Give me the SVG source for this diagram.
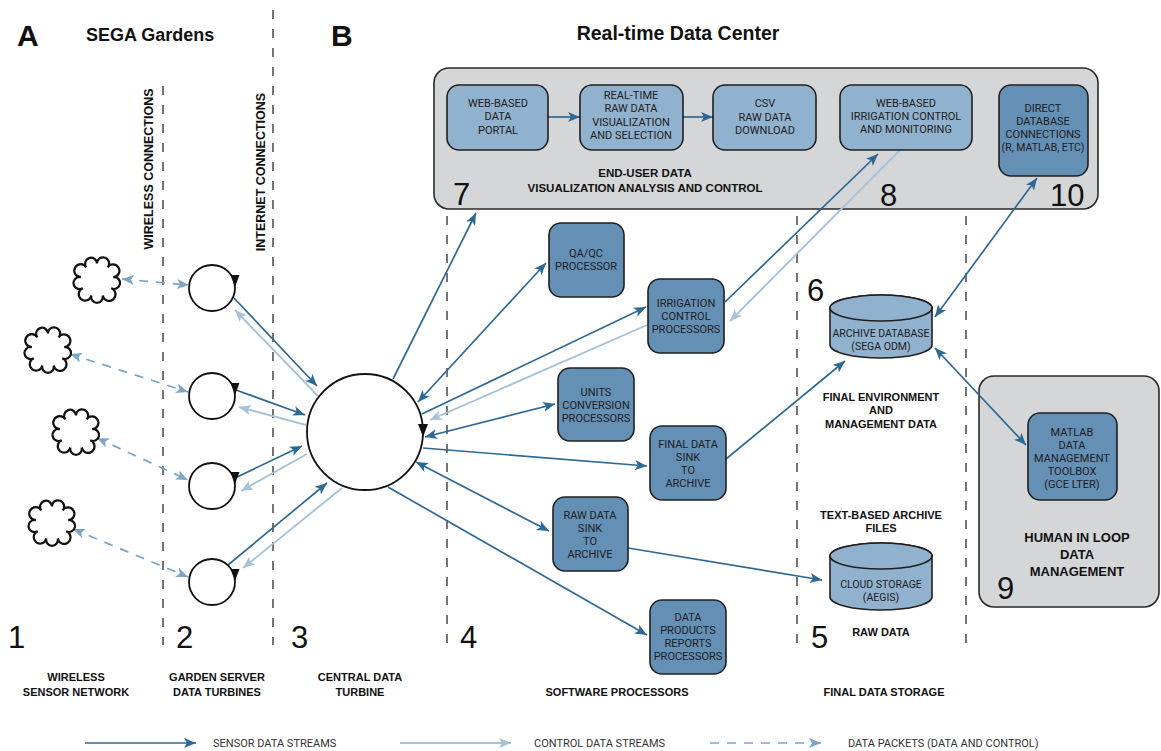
<svg xmlns="http://www.w3.org/2000/svg" width="1161" height="751" viewBox="0 0 1161 751">
<style>
.dk{stroke:#2d6996;stroke-width:1.7;fill:none}
.lt{stroke:#a7c1d8;stroke-width:1.9;fill:none}
.ds{stroke:#7ca5c7;stroke-width:1.7;fill:none;stroke-dasharray:9 8}
.sep{stroke:#3a3a3a;stroke-width:1.4;stroke-dasharray:9 10;fill:none}
.nd{fill:#6590b6;stroke:#1f1f1f;stroke-width:1.6}
.nl{fill:#91b2cf;stroke:#1f1f1f;stroke-width:1.6}
.grp{fill:#d5d6d8;stroke:#2a2a2a;stroke-width:1.6}
.ring{fill:#fff;stroke:#111;stroke-width:1.8}
.cloud{fill:#fff;stroke:#111;stroke-width:2}
text{font-family:Roboto,"Liberation Sans",sans-serif}
.nt{font-size:11px;fill:#1c1c1c;text-anchor:middle}
.bl{font-family:"Liberation Sans",Arial,sans-serif;font-size:11px;font-weight:bold;fill:#111;text-anchor:middle}
.dg{font-family:"Liberation Sans",Arial,sans-serif;font-size:31px;fill:#111}
.lg{font-size:11px;fill:#333}
</style>
<defs>
<marker id="ad" markerUnits="userSpaceOnUse" markerWidth="14" markerHeight="12" refX="12" refY="5" orient="auto-start-reverse"><path d="M0,0 L12,5 L0,10 L3,5 z" fill="#2d6996"/></marker>
<marker id="al" markerUnits="userSpaceOnUse" markerWidth="14" markerHeight="12" refX="12" refY="5" orient="auto-start-reverse"><path d="M0,0 L12,5 L0,10 L3,5 z" fill="#a7c1d8"/></marker>
<marker id="as" markerUnits="userSpaceOnUse" markerWidth="14" markerHeight="12" refX="12" refY="5" orient="auto-start-reverse"><path d="M0,0 L12,5 L0,10 L3,5 z" fill="#7ca5c7"/></marker>
<path id="cl" d="M0,-15 A5.5,5.5 0 1 1 9.64,-11.49 A5.8,5.8 0 1 1 14.77,-2.6 A5.4,5.4 0 1 1 12.99,7.5 A5.9,5.9 0 1 1 5.13,14.1 A5.3,5.3 0 1 1 -5.13,14.1 A5.8,5.8 0 1 1 -12.99,7.5 A5.5,5.5 0 1 1 -14.77,-2.6 A5.9,5.9 0 1 1 -9.64,-11.49 A5.4,5.4 0 1 1 0,-15 Z"/>
</defs>
<rect width="1161" height="751" fill="#fff"/>

<!-- titles -->
<text x="17" y="46" style="font-family:'Liberation Sans',Arial,sans-serif;font-size:30px;font-weight:bold" fill="#111">A</text>
<text x="86" y="41" style="font-family:'Liberation Sans',Arial,sans-serif;font-size:18px;font-weight:bold" fill="#111">SEGA Gardens</text>
<text x="331" y="46" style="font-family:'Liberation Sans',Arial,sans-serif;font-size:30px;font-weight:bold" fill="#111">B</text>
<text x="678" y="40" text-anchor="middle" style="font-family:'Liberation Sans',Arial,sans-serif;font-size:19.5px;font-weight:bold" fill="#111">Real-time Data Center</text>

<!-- separators -->
<g id="separators">
<line class="sep" x1="163" y1="86" x2="163" y2="645"/>
<line class="sep" x1="273" y1="10" x2="273" y2="645"/>
<line class="sep" x1="447" y1="216" x2="447" y2="645"/>
<line class="sep" x1="797" y1="216" x2="797" y2="645"/>
<line class="sep" x1="966" y1="216" x2="966" y2="645"/>
<text class="bl" transform="translate(153,169) rotate(-90)" style="font-size:12.5px">WIRELESS CONNECTIONS</text>
<text class="bl" transform="translate(265,172) rotate(-90)" style="font-size:12.5px">INTERNET CONNECTIONS</text>
</g>

<!-- group boxes -->
<g id="enduser">
<rect class="grp" x="434" y="68" width="664" height="141" rx="15"/>
<text class="bl" x="645" y="177" style="font-size:11.5px">END-USER DATA</text>
<text class="bl" x="645" y="192" style="font-size:11.5px">VISUALIZATION ANALYSIS AND CONTROL</text>
<text class="dg" x="453" y="205">7</text>
<text class="dg" x="880" y="206">8</text>
<text class="dg" x="1050" y="206">10</text>
</g>
<g id="human">
<rect class="grp" x="979" y="376" width="180" height="231" rx="15"/>
<text class="bl" x="1077" y="542" style="font-size:13px">HUMAN IN LOOP</text>
<text class="bl" x="1077" y="559" style="font-size:13px">DATA</text>
<text class="bl" x="1077" y="576" style="font-size:13px">MANAGEMENT</text>
<text class="dg" x="997" y="599">9</text>
</g>

<!-- connectors -->
<g id="connectors">
<line class="ds" x1="122" y1="279" x2="189" y2="285" marker-start="url(#as)" marker-end="url(#as)"/>
<line class="ds" x1="70" y1="354" x2="188" y2="392" marker-start="url(#as)" marker-end="url(#as)"/>
<line class="ds" x1="97" y1="438" x2="188" y2="480" marker-start="url(#as)" marker-end="url(#as)"/>
<line class="ds" x1="73" y1="529" x2="188" y2="577" marker-start="url(#as)" marker-end="url(#as)"/>

<line class="dk" x1="234" y1="298" x2="317" y2="386" marker-end="url(#ad)"/>
<line class="dk" x1="236" y1="390" x2="305" y2="415" marker-end="url(#ad)"/>
<line class="dk" x1="235" y1="478" x2="302" y2="446" marker-end="url(#ad)"/>
<line class="dk" x1="228" y1="565" x2="327" y2="483" marker-end="url(#ad)"/>
<line class="lt" x1="318" y1="396" x2="235" y2="310" marker-end="url(#al)"/>
<line class="lt" x1="306" y1="425" x2="239" y2="407" marker-end="url(#al)"/>
<line class="lt" x1="307" y1="454" x2="241" y2="491" marker-end="url(#al)"/>
<line class="lt" x1="342" y1="488" x2="243" y2="568" marker-end="url(#al)"/>

<line class="dk" x1="393" y1="379" x2="476" y2="213" marker-end="url(#ad)"/>
<line class="dk" x1="418" y1="402" x2="546" y2="263" marker-start="url(#ad)" marker-end="url(#ad)"/>
<line class="dk" x1="422" y1="414" x2="646" y2="307" marker-end="url(#ad)"/>
<line class="lt" x1="647" y1="325" x2="430" y2="420" marker-end="url(#al)"/>
<line class="dk" x1="425" y1="437" x2="555" y2="404" marker-start="url(#ad)" marker-end="url(#ad)"/>
<line class="dk" x1="423" y1="448" x2="647" y2="466" marker-end="url(#ad)"/>
<line class="dk" x1="416" y1="462" x2="549" y2="531" marker-start="url(#ad)" marker-end="url(#ad)"/>
<line class="dk" x1="388" y1="487" x2="647" y2="635" marker-end="url(#ad)"/>
<line class="dk" x1="725" y1="302" x2="878" y2="154" marker-end="url(#ad)"/>
<line class="lt" x1="900" y1="150" x2="730" y2="321" marker-end="url(#al)"/>
<line class="dk" x1="726" y1="459" x2="845" y2="361" marker-end="url(#ad)"/>
<line class="dk" x1="628" y1="548" x2="822" y2="580" marker-end="url(#ad)"/>
<line class="dk" x1="1037" y1="178" x2="935" y2="317" marker-start="url(#ad)" marker-end="url(#ad)"/>
<line class="dk" x1="935" y1="348" x2="1026" y2="445" marker-start="url(#ad)" marker-end="url(#ad)"/>
<line class="dk" x1="548" y1="117" x2="580" y2="117" marker-end="url(#ad)"/>
<line class="dk" x1="683" y1="117" x2="713" y2="117" marker-end="url(#ad)"/>
</g>

<!-- sensor clouds -->
<g id="sensor1"><use href="#cl" class="cloud" transform="translate(97,280) scale(1.1)"/></g>
<g id="sensor2"><use href="#cl" class="cloud" transform="translate(48,350) scale(1.1)"/></g>
<g id="sensor3"><use href="#cl" class="cloud" transform="translate(76,432) scale(1.1)"/></g>
<g id="sensor4"><use href="#cl" class="cloud" transform="translate(52,523) scale(1.1)"/></g>

<!-- garden turbines -->
<g id="garden1"><circle class="ring" cx="212" cy="288" r="23"/><path d="M235,287 L230.5,275 L239.5,275 z" fill="#111"/></g>
<g id="garden2"><circle class="ring" cx="212" cy="396" r="23"/><path d="M235,395 L230.5,383 L239.5,383 z" fill="#111"/></g>
<g id="garden3"><circle class="ring" cx="212" cy="486" r="23"/><path d="M235,484 L230.5,472 L239.5,472 z" fill="#111"/></g>
<g id="garden4"><circle class="ring" cx="212" cy="582" r="23"/><path d="M235,581 L230.5,569 L239.5,569 z" fill="#111"/></g>

<!-- central -->
<g id="central"><circle class="ring" cx="365" cy="432" r="58"/><path d="M423,437 L418,424 L428,424 z" fill="#111"/></g>

<!-- top boxes -->
<g id="portal"><rect class="nl" x="447" y="85" width="101" height="65" rx="12"/>
<text class="nt" x="498" y="107">WEB-BASED</text><text class="nt" x="498" y="120">DATA</text><text class="nt" x="498" y="134">PORTAL</text></g>
<g id="realtime"><rect class="nl" x="580" y="85" width="103" height="65" rx="12"/>
<text class="nt" x="631" y="99">REAL-TIME</text><text class="nt" x="631" y="112">RAW DATA</text><text class="nt" x="631" y="126">VISUALIZATION</text><text class="nt" x="631" y="139">AND SELECTION</text></g>
<g id="csv"><rect class="nl" x="713" y="85" width="103" height="65" rx="12"/>
<text class="nt" x="765" y="107">CSV</text><text class="nt" x="765" y="121">RAW DATA</text><text class="nt" x="765" y="134">DOWNLOAD</text></g>
<g id="webirrigation"><rect class="nl" x="840" y="85" width="132" height="65" rx="12"/>
<text class="nt" x="906" y="107">WEB-BASED</text><text class="nt" x="906" y="120">IRRIGATION CONTROL</text><text class="nt" x="906" y="133">AND MONITORING</text></g>
<g id="directdb"><rect class="nd" x="999" y="85" width="89" height="91" rx="12"/>
<text class="nt" x="1043" y="112">DIRECT</text><text class="nt" x="1043" y="125">DATABASE</text><text class="nt" x="1043" y="138">CONNECTIONS</text><text class="nt" x="1043" y="151" style="font-size:10.5px">(R, MATLAB, ETC)</text></g>

<!-- processors -->
<g id="qaqc"><rect class="nd" x="549" y="223" width="75" height="74" rx="12"/>
<text class="nt" x="586" y="257">QA/QC</text><text class="nt" x="586" y="270">PROCESSOR</text></g>
<g id="irrigation"><rect class="nd" x="648" y="279" width="76" height="74" rx="12"/>
<text class="nt" x="686" y="307">IRRIGATION</text><text class="nt" x="686" y="320">CONTROL</text><text class="nt" x="686" y="333">PROCESSORS</text></g>
<g id="units"><rect class="nd" x="558" y="368" width="76" height="73" rx="12"/>
<text class="nt" x="596" y="396">UNITS</text><text class="nt" x="596" y="409">CONVERSION</text><text class="nt" x="596" y="422">PROCESSORS</text></g>
<g id="finalsink"><rect class="nd" x="650" y="426" width="76" height="74" rx="12"/>
<text class="nt" x="688" y="448">FINAL DATA</text><text class="nt" x="688" y="461">SINK</text><text class="nt" x="688" y="474">TO</text><text class="nt" x="688" y="487">ARCHIVE</text></g>
<g id="rawsink"><rect class="nd" x="553" y="497" width="75" height="74" rx="12"/>
<text class="nt" x="590" y="519">RAW DATA</text><text class="nt" x="590" y="532">SINK</text><text class="nt" x="590" y="545">TO</text><text class="nt" x="590" y="558">ARCHIVE</text></g>
<g id="dataproducts"><rect class="nd" x="650" y="600" width="76" height="74" rx="12"/>
<text class="nt" x="688" y="621">DATA</text><text class="nt" x="688" y="634">PRODUCTS</text><text class="nt" x="688" y="647">REPORTS</text><text class="nt" x="688" y="660">PROCESSORS</text></g>

<!-- storage -->
<g id="archivedb">
<path class="nl" d="M830,308 L830,345 A51,13 0 0 0 932,345 L932,308 A51,13 0 0 0 830,308 Z"/>
<ellipse class="nl" cx="881" cy="308" rx="51" ry="13"/>
<text class="nt" x="881" y="337" style="font-size:10.5px">ARCHIVE DATABASE</text><text class="nt" x="881" y="350" style="font-size:10.5px">(SEGA ODM)</text>
</g>
<g id="cloudstorage">
<path class="nl" d="M830,556 L830,597 A51,13 0 0 0 932,597 L932,556 A51,13 0 0 0 830,556 Z"/>
<ellipse class="nl" cx="881" cy="556" rx="51" ry="13"/>
<text class="nt" x="881" y="588" style="font-size:10.5px">CLOUD STORAGE</text><text class="nt" x="881" y="601" style="font-size:10.5px">(AEGIS)</text>
</g>
<g id="matlab"><rect class="nd" x="1028" y="413" width="89" height="87" rx="12"/>
<text class="nt" x="1072" y="436">MATLAB</text><text class="nt" x="1072" y="449">DATA</text><text class="nt" x="1072" y="462">MANAGEMENT</text><text class="nt" x="1072" y="475">TOOLBOX</text><text class="nt" x="1072" y="488">(GCE LTER)</text></g>

<!-- labels -->
<g id="labels">
<text class="dg" x="807" y="301">6</text>
<text class="bl" x="881" y="401">FINAL ENVIRONMENT</text>
<text class="bl" x="881" y="414">AND</text>
<text class="bl" x="881" y="428">MANAGEMENT DATA</text>
<text class="bl" x="881" y="519">TEXT-BASED ARCHIVE</text>
<text class="bl" x="881" y="532">FILES</text>
<text class="bl" x="881" y="636">RAW DATA</text>
<text class="dg" x="811" y="648">5</text>
<text class="dg" x="8" y="648">1</text>
<text class="dg" x="176" y="648">2</text>
<text class="dg" x="291" y="648">3</text>
<text class="dg" x="460" y="648">4</text>
<text class="bl" x="76" y="681">WIRELESS</text>
<text class="bl" x="76" y="696">SENSOR NETWORK</text>
<text class="bl" x="217" y="681">GARDEN SERVER</text>
<text class="bl" x="217" y="696">DATA TURBINES</text>
<text class="bl" x="360" y="681">CENTRAL DATA</text>
<text class="bl" x="360" y="696">TURBINE</text>
<text class="bl" x="617" y="696">SOFTWARE PROCESSORS</text>
<text class="bl" x="884" y="696">FINAL DATA STORAGE</text>
</g>

<!-- legend -->
<g id="legend">
<line class="dk" x1="85" y1="743" x2="196" y2="743" marker-end="url(#ad)"/>
<text class="lg" x="213" y="747">SENSOR DATA STREAMS</text>
<line class="lt" x1="400" y1="743" x2="511" y2="743" marker-end="url(#al)"/>
<text class="lg" x="534" y="747">CONTROL DATA STREAMS</text>
<line class="ds" x1="710" y1="743" x2="821" y2="743" marker-end="url(#as)"/>
<text class="lg" x="848" y="747">DATA PACKETS (DATA AND CONTROL)</text>
</g>
</svg>
